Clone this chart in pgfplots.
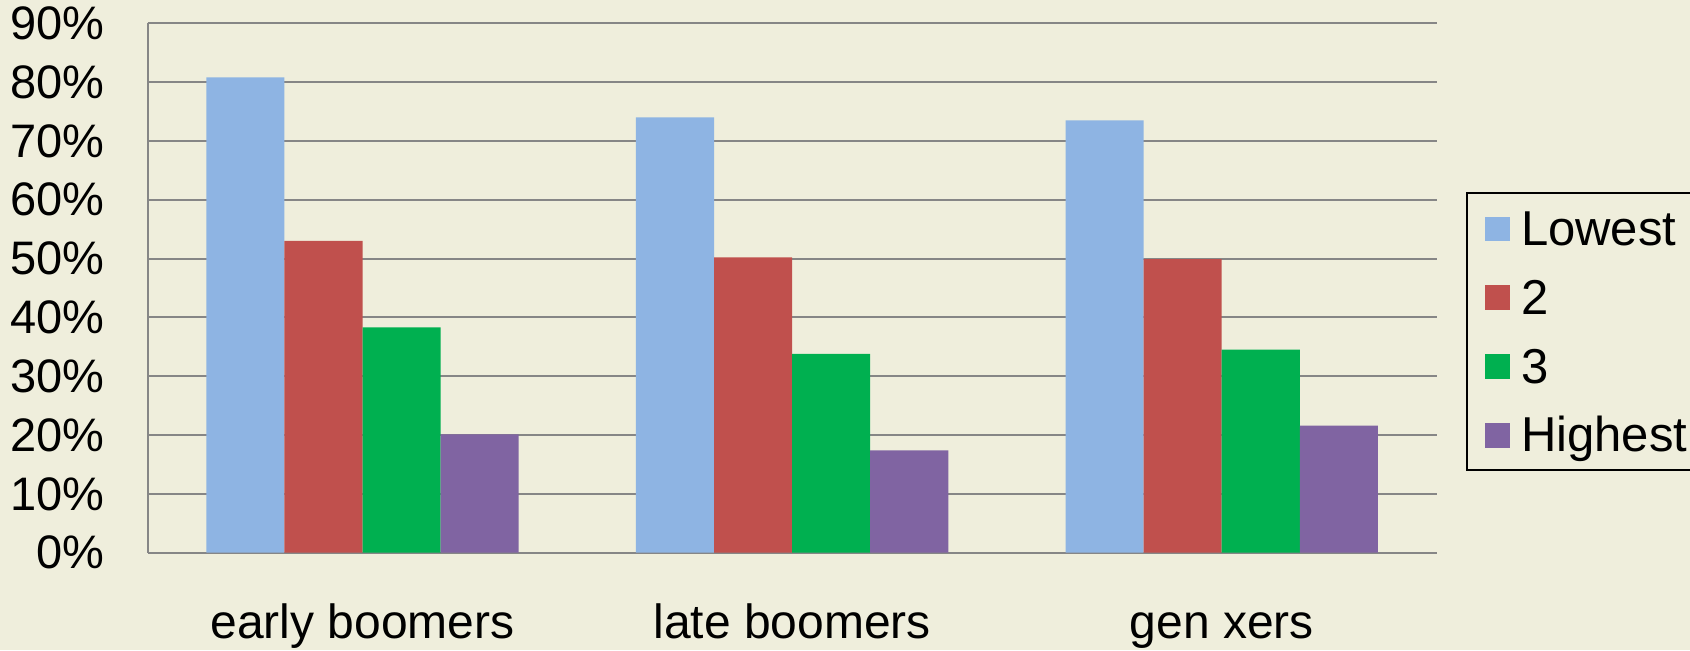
\documentclass[border=0pt]{standalone}
\usepackage{pgfplots}
\usepackage{pgfplotstable}
\pgfplotsset{compat=1.18}
\usepackage{fontspec}
\setmainfont{Liberation Sans}

\definecolor{bg}{HTML}{EFEEDC}
\definecolor{cLow}{HTML}{8EB4E3}
\definecolor{cTwo}{HTML}{C0504D}
\definecolor{cThree}{HTML}{00B050}
\definecolor{cHigh}{HTML}{8064A2}
\definecolor{gridgray}{HTML}{868686}

% share (%) by quartile, per generation
\pgfplotstableread{
x low two three high
0 80.8 53.0 38.3 20.1
1 74.0 50.2 33.8 17.4
2 73.5 49.9 34.5 21.6
}\shares

\pgfplotsset{
  sqlegend/.style={legend image code/.code={\fill[##1,draw=none] (0pt,-6.4pt) rectangle (12.4pt,6.0pt);}}
}

\begin{document}
\begin{tikzpicture}
\fill[bg] (-73.85pt,-48.65pt) rectangle (771.15pt,276.35pt);
\useasboundingbox (-73.85pt,-48.65pt) rectangle (771.15pt,276.35pt);
\begin{axis}[
  scale only axis, width=644.4pt, height=264.75pt,
  ybar=0pt, bar width=0.1818,
  xmin=-0.5, xmax=2.5, ymin=0, ymax=90,
  xtick={0,1,2}, xticklabels={early boomers, late boomers, gen xers},
  ytick={0,10,...,90},
  yticklabels={0\%,10\%,20\%,30\%,40\%,50\%,60\%,70\%,80\%,90\%},
  extra x ticks={-0.5}, extra x tick labels={},
  extra x tick style={xmajorgrids=true},
  ymajorgrids,
  major grid style={gridgray, line width=1pt},
  axis line style={draw=none},
  major tick length=0pt,
  yticklabel style={font=\fontsize{23.5}{28}\selectfont, anchor=east, inner sep=0pt, xshift=-21.5pt},
  xticklabel style={font=\fontsize{24}{28}\selectfont, anchor=base, inner sep=0pt, yshift=-43pt},
  legend cell align=left,
  legend style={at={(1.02273,0.6805)}, anchor=north west,
    draw=black, line width=1pt, fill=bg,
    font=\fontsize{24.5}{28}\selectfont,
    inner xsep=9.1pt, inner ysep=4pt, row sep=7.15pt, column sep=5.6pt,
    nodes={inner sep=0pt, text height=22.1pt, text depth=5.15pt}},
]
\addplot[fill=cLow, draw=none, sqlegend] table[x=x, y=low]{\shares};
\addplot[fill=cTwo, draw=none, sqlegend] table[x=x, y=two]{\shares};
\addplot[fill=cThree, draw=none, sqlegend] table[x=x, y=three]{\shares};
\addplot[fill=cHigh, draw=none, sqlegend] table[x=x, y=high]{\shares};
\legend{Lowest, 2, 3, Highest}
\end{axis}
\end{tikzpicture}
\end{document}
